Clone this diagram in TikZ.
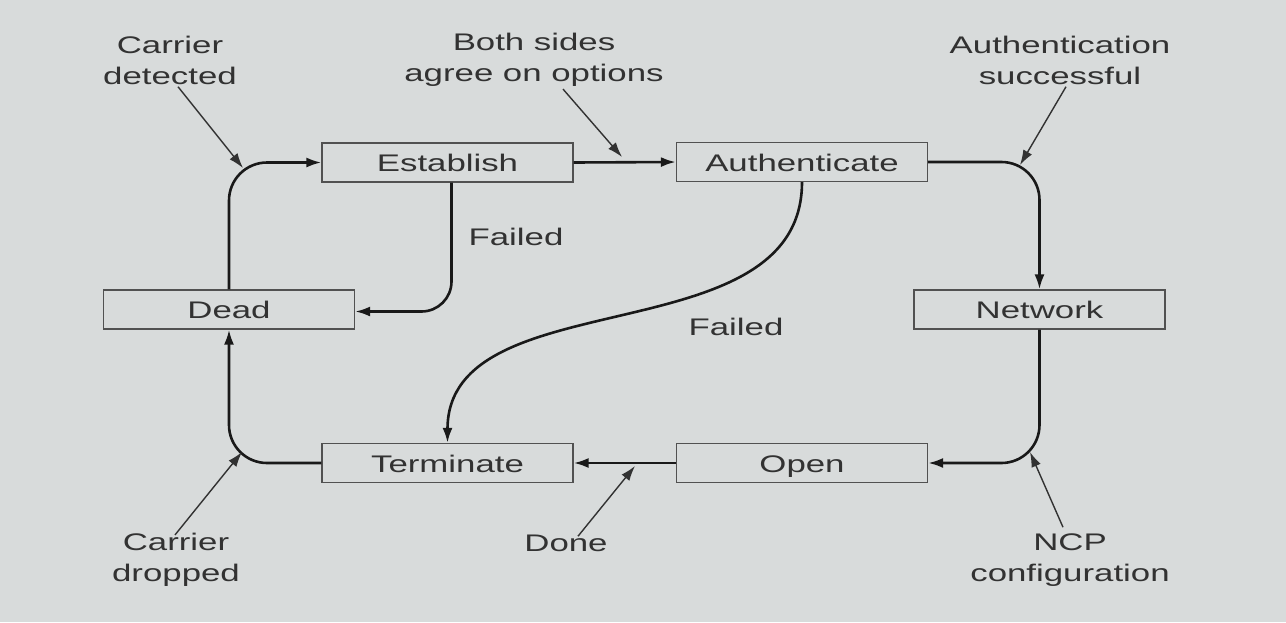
\documentclass[tikz,border=0pt]{standalone}
\usepackage{fontspec}
\setmainfont[FakeStretch=1.45]{Liberation Sans}
\usetikzlibrary{arrows.meta,calc}
\definecolor{slide}{RGB}{216,219,219}
\definecolor{ink}{RGB}{50,50,50}
\begin{document}
\begin{tikzpicture}[x=0.5pt, y=-0.5pt, font=\fontsize{12}{15.5}\selectfont, text=ink,
    state/.style={draw=ink!85, line width=0.6pt, minimum width=125.5pt, minimum height=19.5pt, inner sep=0pt, text height=10pt, text depth=1pt},
    flow/.style={draw=black!90, line width=1.3pt, rounded corners=19pt, -{Latex[length=7.5pt,width=5pt]}},
    note/.style={align=center, inner sep=1pt},
    pointer/.style={draw=ink, line width=0.7pt, -{Latex[length=7.5pt,width=5pt]}}]

\useasboundingbox[fill=slide] (0,0) rectangle (1286,622);

% states
\node[state] (establish) at (447.5,162.5) {Establish};
\node[state] (authenticate) at (802,162) {Authenticate};
\node[state] (dead) at (229,309.5) {Dead};
\node[state] (network) at (1039.5,309.5) {Network};
\node[state] (terminate) at (447.5,463) {Terminate};
\node[state] (open) at (802,463) {Open};

% transitions
\draw[flow] (dead.north) |- (establish.west);
\draw[flow] (establish.east) -- (authenticate.west);
\draw[flow] (authenticate.east) -| (network.north);
\draw[flow] (network.south) |- (open.east);
\draw[flow] (open.west) -- (terminate.east);
\draw[flow] (terminate.west) -| (dead.south);
\draw[flow, rounded corners=15pt] ($(establish.south)+(4,0)$) |- ($(dead.east)+(0,2)$);
\draw[flow] (authenticate.south) .. controls +(0,175) and +(0,-165) .. (terminate.north);

% labels
\node[note] (detected) at (170,60) {Carrier\\detected};
\node[note] (agree) at (534,60) {Both sides\\agree on options};
\node[note] (success) at (1060,60) {Authentication\\successful};
\node[note] (dropped) at (176,560) {Carrier\\dropped};
\node[note] (done) at (566,543) {Done};
\node[note] (ncp) at (1070,560) {NCP\\configuration};
\node[note] (failA) at (516,237) {Failed};
\node[note] (failB) at (736,327) {Failed};

\coordinate (detectedTip) at (243,168);
\coordinate (agreeTip) at (622,157);
\coordinate (successTip) at (1020,165);
\coordinate (droppedTip) at (242,452);
\coordinate (doneTip) at (635,466);
\coordinate (ncpTip) at (1030,452);

\draw[pointer] ($(detected.south)+(8,0)$) -- (detectedTip);
\draw[pointer] ($(agree.south)+(29,0)$) -- (agreeTip);
\draw[pointer] ($(success.south)+(6,0)$) -- (successTip);
\draw[pointer] ($(dropped.north)+(-1,4)$) -- (droppedTip);
\draw[pointer] ($(done.north)+(12,4)$) -- (doneTip);
\draw[pointer] ($(ncp.north)+(-7,-4)$) -- (ncpTip);
\end{tikzpicture}
\end{document}
